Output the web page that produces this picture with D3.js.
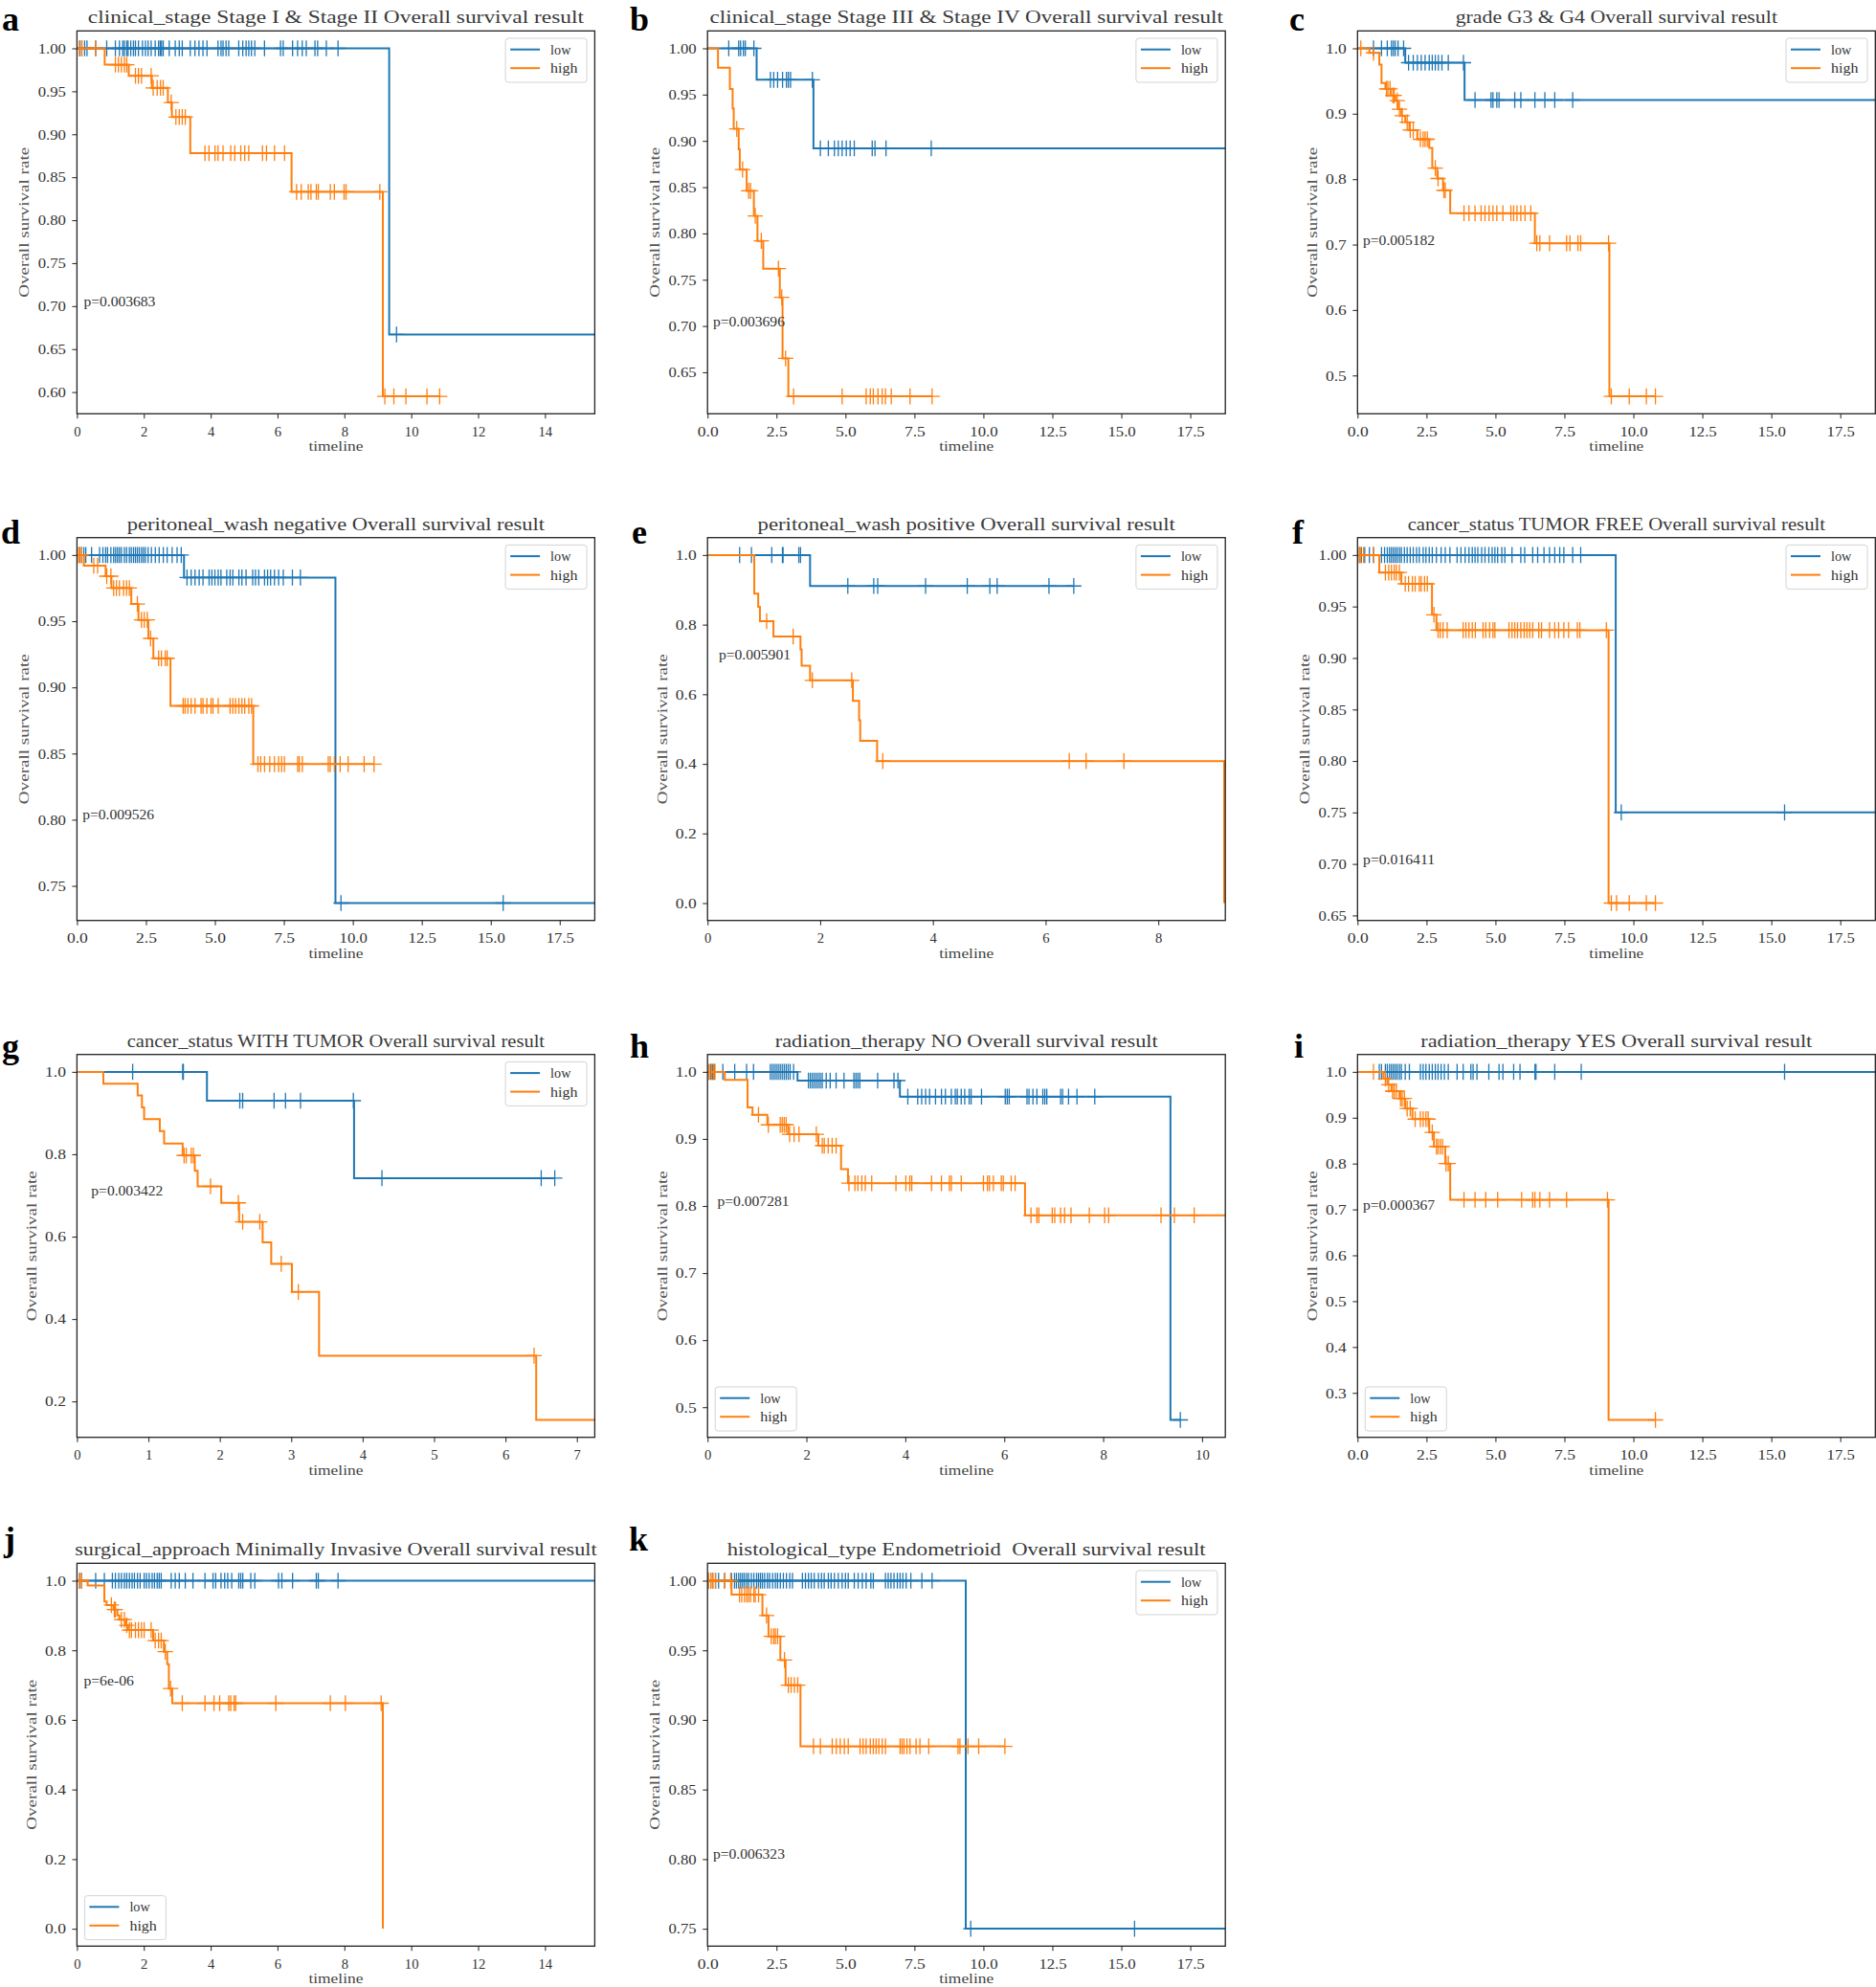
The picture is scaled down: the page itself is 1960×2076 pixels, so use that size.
<!DOCTYPE html>
<html><head><meta charset="utf-8">
<script src="https://cdn.jsdelivr.net/npm/d3@7"></script>
<style>
body{margin:0;background:#fff;}
svg text{white-space:pre;}
</style></head><body>
<svg id="chart" width="1960" height="2076"></svg>
<script>
// ---------------- DATA ----------------
const panelLetters = ["a","b","c","d","e","f","g","h","i","j","k"];
const panelTitles = [
  "clinical_stage Stage I & Stage II Overall survival result",
  "clinical_stage Stage III & Stage IV Overall survival result",
  "grade G3 & G4 Overall survival result",
  "peritoneal_wash negative Overall survival result",
  "peritoneal_wash positive Overall survival result",
  "cancer_status TUMOR FREE Overall survival result",
  "cancer_status WITH TUMOR Overall survival result",
  "radiation_therapy NO Overall survival result",
  "radiation_therapy YES Overall survival result",
  "surgical_approach Minimally Invasive Overall survival result",
  "histological_type Endometrioid  Overall survival result"
];
const pValues = ["p=0.003683","p=0.003696","p=0.005182","p=0.009526","p=0.005901","p=0.016411","p=0.003422","p=0.007281","p=0.000367","p=6e-06","p=0.006323"];
const pValueY = [0.7,0.7,0.7,0.8,0.7,0.7,0.7,0.8,0.7,0.7,0.8];
const seriesNames = ["low","high"];
const legendCorner = ["ur","ur","ur","ur","ur","ur","ur","ll","ll","ll","ur"];
const xMaxes = [15.49,18.77,18.77,18.77,9.19,18.77,7.25,10.47,18.77,15.49,18.77];
const yDecimals = [2,2,1,2,1,2,1,1,1,1,2];
const xDecimals = [0,1,1,1,0,1,0,0,1,0,1];

const xTicksBy2to14 = [0,2,4,6,8,10,12,14];
const xTicksBy25 = [0,2.5,5,7.5,10,12.5,15,17.5];
const xTicksE = [0,2,4,6,8];
const xTicksG = [0,1,2,3,4,5,6,7];
const xTicksH = [0,2,4,6,8,10];

const yTicksA = [0.60,0.65,0.70,0.75,0.80,0.85,0.90,0.95,1.00];
const yTicksB = [0.65,0.70,0.75,0.80,0.85,0.90,0.95,1.00];
const yTicksC = [0.5,0.6,0.7,0.8,0.9,1.0];
const yTicksD = [0.75,0.80,0.85,0.90,0.95,1.00];
const yTicksE = [0.0,0.2,0.4,0.6,0.8,1.0];
const yTicksF = [0.65,0.70,0.75,0.80,0.85,0.90,0.95,1.00];
const yTicksG = [0.2,0.4,0.6,0.8,1.0];
const yTicksH = [0.5,0.6,0.7,0.8,0.9,1.0];
const yTicksI = [0.3,0.4,0.5,0.6,0.7,0.8,0.9,1.0];
const yTicksJ = [0.0,0.2,0.4,0.6,0.8,1.0];
const yTicksK = [0.75,0.80,0.85,0.90,0.95,1.00];

// steps: [time, survival after drop]; censor: censored times; end: last time
const aLowSteps = [[9.34,0.667]];
const aLowCensor = [0.08,0.14,0.23,0.30,0.56,0.89,1.15,1.27,1.37,1.42,1.49,1.53,1.61,1.69,1.75,1.84,1.96,2.05,2.13,2.22,2.34,2.44,2.49,2.53,2.58,2.76,2.94,3.06,3.15,3.39,3.53,3.65,3.77,3.89,4.22,4.31,4.37,4.46,4.54,4.84,4.96,5.06,5.14,5.22,5.32,5.61,6.09,6.17,6.45,6.60,6.74,6.86,7.12,7.20,7.46,7.81,9.56];
const aHighSteps = [[0.83,0.981],[1.55,0.968],[2.24,0.954],[2.72,0.937],[2.84,0.920],[3.39,0.878],[6.42,0.833],[9.15,0.595]];
const aHighCensor = [0.08,0.15,0.56,1.15,1.24,1.33,1.42,1.49,1.75,1.84,1.93,2.22,2.28,2.40,2.50,2.58,2.82,2.96,3.06,3.15,3.24,3.83,3.95,4.13,4.22,4.37,4.60,4.72,4.90,5.02,5.14,5.55,5.67,5.91,6.21,6.57,6.71,6.92,7.00,7.16,7.22,7.58,7.70,7.99,8.05,9.06,9.21,9.48,9.84,10.47,10.85];

const bLowSteps = [[1.78,0.966],[3.84,0.892]];
const bLowCensor = [0.77,1.13,1.20,1.30,1.37,1.68,2.28,2.40,2.54,2.72,2.86,2.93,3.01,3.80,4.09,4.38,4.60,4.74,4.88,5.03,5.17,5.32,5.97,6.07,6.47,8.11];
const bHighSteps = [[0.38,0.979],[0.81,0.956],[0.91,0.935],[0.95,0.913],[1.13,0.891],[1.17,0.869],[1.42,0.846],[1.68,0.819],[1.81,0.792],[2.02,0.762],[2.62,0.731],[2.72,0.665],[2.93,0.624]];
const bHighCensor = [1.06,1.27,1.49,1.56,1.73,1.95,2.57,2.69,2.83,3.12,4.88,5.75,5.90,6.01,6.18,6.33,6.45,6.66,7.34,8.14];

const cLowSteps = [[1.73,0.978],[3.88,0.921]];
const cLowCensor = [0.58,0.87,1.08,1.23,1.30,1.37,1.47,1.67,1.85,2.02,2.17,2.31,2.45,2.60,2.71,2.82,2.93,3.06,3.29,3.84,4.26,4.84,4.91,5.05,5.13,5.70,5.92,6.43,6.79,7.15,7.80];
const cHighSteps = [[0.43,0.993],[0.79,0.975],[0.87,0.947],[1.01,0.938],[1.20,0.928],[1.37,0.920],[1.47,0.907],[1.59,0.897],[1.73,0.887],[1.88,0.875],[2.17,0.861],[2.60,0.848],[2.71,0.817],[2.89,0.801],[3.10,0.783],[3.36,0.748],[6.43,0.702],[9.13,0.468]];
const cHighCensor = [0.12,0.58,1.05,1.10,1.18,1.28,1.33,1.44,1.52,1.62,1.80,1.91,2.02,2.28,2.38,2.45,2.53,2.82,2.92,3.13,3.18,3.86,4.04,4.26,4.48,4.62,4.77,4.91,5.05,5.27,5.56,5.66,5.78,5.92,6.07,6.28,6.50,6.61,6.96,7.58,7.70,7.99,8.09,9.10,9.20,9.85,10.47,10.80];

const dLowSteps = [[3.88,0.983],[9.37,0.737]];
const dLowCensor = [0.10,0.17,0.25,0.32,0.53,0.82,0.94,1.04,1.11,1.23,1.33,1.40,1.47,1.54,1.61,1.72,1.80,1.90,1.97,2.05,2.12,2.19,2.26,2.34,2.41,2.48,2.58,2.70,2.84,2.98,3.13,3.27,3.45,3.63,3.78,3.99,4.14,4.28,4.43,4.57,4.79,4.89,5.00,5.12,5.22,5.43,5.55,5.65,5.87,5.98,6.13,6.37,6.47,6.59,6.80,6.91,7.02,7.16,7.31,7.48,7.81,8.10,9.57,15.45];
const dHighSteps = [[0.25,0.992],[1.04,0.984],[1.25,0.975],[1.97,0.963],[2.23,0.951],[2.59,0.937],[2.77,0.922],[3.39,0.886],[6.39,0.842]];
const dHighCensor = [0.06,0.10,0.17,0.61,0.75,1.08,1.23,1.33,1.43,1.54,1.69,1.80,1.90,2.19,2.34,2.44,2.55,2.67,2.96,3.06,3.20,3.27,3.85,3.92,4.02,4.14,4.28,4.50,4.57,4.71,4.86,4.93,5.12,5.55,5.65,5.75,5.87,5.98,6.08,6.23,6.33,6.56,6.66,6.80,6.99,7.16,7.31,7.42,7.52,8.00,8.06,8.17,9.11,9.18,9.33,9.54,9.83,10.41,10.77];

const eLowSteps = [[1.82,0.911]];
const eLowCensor = [0.57,0.78,1.14,1.33,1.34,1.62,1.65,2.49,2.95,3.02,3.87,4.61,5.01,5.14,6.06,6.50];
const eHighSteps = [[0.83,0.889],[0.90,0.851],[0.93,0.810],[1.17,0.766],[1.65,0.729],[1.67,0.682],[1.82,0.640],[2.58,0.581],[2.69,0.525],[2.71,0.466],[3.01,0.408],[9.17,0.0]];
const eHighCensor = [1.05,1.52,1.86,2.56,3.11,6.42,6.72,7.39];

const fLowSteps = [[9.36,0.75]];
const fLowCensor = [0.07,0.14,0.26,0.43,0.58,0.87,0.98,1.08,1.16,1.23,1.30,1.37,1.44,1.52,1.59,1.70,1.80,1.91,2.02,2.14,2.24,2.38,2.48,2.60,2.71,2.86,3.03,3.18,3.35,3.61,3.75,3.90,4.04,4.16,4.26,4.36,4.50,4.62,4.76,4.88,4.98,5.08,5.23,5.34,5.60,5.92,6.06,6.35,6.53,6.76,6.96,7.15,7.33,7.48,7.80,8.09,9.56,15.48];
const fHighSteps = [[0.79,0.983],[1.59,0.972],[2.70,0.942],[2.86,0.927],[9.10,0.662]];
const fHighCensor = [0.07,0.12,0.22,0.58,1.01,1.13,1.23,1.33,1.41,1.52,1.73,1.85,1.99,2.09,2.24,2.31,2.43,2.53,2.77,2.92,3.00,3.10,3.25,3.83,3.93,4.04,4.16,4.27,4.55,4.65,4.79,4.91,4.98,5.49,5.60,5.70,5.80,5.92,6.04,6.14,6.24,6.35,6.57,6.67,6.96,7.15,7.29,7.48,7.65,7.97,8.06,9.02,9.20,9.39,9.85,10.47,10.80];

const gLowSteps = [[1.82,0.930],[3.88,0.742]];
const gLowCensor = [0.78,1.48,1.49,2.28,2.32,2.76,2.92,3.13,3.87,4.27,6.50,6.69];
const gHighSteps = [[0.37,0.971],[0.85,0.943],[0.91,0.914],[0.94,0.885],[1.16,0.856],[1.22,0.826],[1.48,0.797],[1.65,0.760],[1.69,0.722],[2.02,0.682],[2.27,0.636],[2.60,0.586],[2.72,0.534],[3.01,0.466],[3.39,0.311],[6.43,0.155]];
const gHighCensor = [1.50,1.53,1.60,1.63,1.87,2.26,2.32,2.56,2.86,3.10,6.40];

const hLowSteps = [[1.82,0.987],[3.89,0.963],[9.36,0.481]];
const hLowCensor = [0.06,0.10,0.14,0.31,0.55,0.79,0.93,1.27,1.31,1.35,1.39,1.43,1.47,1.51,1.55,1.59,1.63,1.67,1.74,2.04,2.08,2.12,2.16,2.20,2.24,2.28,2.32,2.40,2.48,2.60,2.76,2.96,3.00,3.04,3.08,3.44,3.77,3.85,4.05,4.25,4.33,4.41,4.49,4.61,4.73,4.81,4.93,5.01,5.05,5.13,5.20,5.29,5.33,5.54,6.02,6.06,6.10,6.46,6.50,6.58,6.66,6.78,6.82,6.86,7.14,7.18,7.30,7.47,7.83,9.56];
const hHighSteps = [[0.35,0.988],[0.81,0.947],[0.91,0.936],[1.21,0.921],[1.63,0.907],[2.24,0.890],[2.70,0.855],[2.84,0.834],[6.42,0.786]];
const hHighCensor = [0.03,0.08,0.12,0.15,1.03,1.23,1.47,1.51,1.55,1.59,1.66,1.75,1.85,2.20,2.32,2.36,2.44,2.52,2.60,2.86,2.98,3.04,3.12,3.19,3.32,3.81,4.01,4.09,4.13,4.53,4.73,4.89,4.93,5.13,5.58,5.66,5.70,5.78,5.94,5.98,6.14,6.22,6.54,6.66,6.70,6.97,7.02,7.14,7.22,7.35,7.72,8.03,8.11,9.17,9.44,9.84];

const iLowSteps = [];
const iLowCensor = [0.79,0.87,1.01,1.08,1.16,1.23,1.30,1.37,1.44,1.52,1.59,1.73,1.88,2.28,2.38,2.48,2.60,2.71,2.82,2.92,3.03,3.15,3.29,3.61,3.83,4.11,4.19,4.33,4.76,5.13,5.27,5.66,5.89,6.43,6.47,7.15,8.11,15.48];
const iHighSteps = [[0.94,0.985],[1.08,0.972],[1.23,0.958],[1.52,0.942],[1.73,0.920],[1.99,0.897],[2.60,0.868],[2.77,0.837],[3.18,0.800],[3.36,0.721],[9.10,0.241]];
const iHighCensor = [0.58,1.01,1.13,1.27,1.33,1.41,1.56,1.62,1.70,1.80,1.91,2.09,2.28,2.38,2.48,2.56,2.71,2.86,2.92,3.00,3.08,3.21,3.29,3.86,4.26,4.65,5.08,5.95,6.35,6.43,6.61,6.96,7.58,9.06,10.80];

const jLowSteps = [];
const jLowCensor = [0.08,0.14,0.56,0.82,1.06,1.15,1.25,1.33,1.42,1.49,1.57,1.65,1.72,1.81,1.89,2.01,2.08,2.16,2.25,2.32,2.40,2.46,2.52,2.82,2.94,3.06,3.24,3.47,3.83,4.07,4.15,4.31,4.42,4.51,4.63,4.84,4.90,4.96,5.20,5.32,6.03,6.13,6.45,7.16,7.22,7.81];
const jHighSteps = [[0.32,0.986],[0.82,0.940],[0.89,0.930],[1.09,0.917],[1.21,0.900],[1.27,0.888],[1.45,0.872],[1.53,0.858],[2.28,0.828],[2.60,0.796],[2.70,0.760],[2.75,0.690],[2.85,0.648],[9.15,0.0]];
const jHighCensor = [0.08,0.14,1.03,1.12,1.15,1.33,1.42,1.49,1.57,1.63,1.75,1.84,1.93,2.01,2.22,2.34,2.44,2.52,2.64,2.80,3.15,3.83,4.10,4.27,4.54,4.60,4.70,4.75,5.95,7.58,8.03,9.10];

const kLowSteps = [[9.36,0.75]];
const kLowCensor = [0.04,0.12,0.19,0.29,0.40,0.62,0.87,0.98,1.05,1.13,1.20,1.27,1.34,1.42,1.49,1.59,1.68,1.78,1.85,1.92,1.99,2.07,2.17,2.25,2.36,2.46,2.54,2.64,2.75,2.86,2.98,3.08,3.44,3.55,3.66,3.76,3.87,4.02,4.13,4.23,4.38,4.48,4.60,4.74,4.88,5.00,5.10,5.32,5.46,5.61,5.75,5.92,6.01,6.45,6.55,6.65,6.76,6.88,6.98,7.08,7.20,7.37,7.77,8.14,9.54,15.48];
const kHighSteps = [[0.87,0.990],[1.99,0.975],[2.21,0.960],[2.64,0.943],[2.83,0.925],[3.37,0.881]];
const kHighCensor = [0.04,0.12,0.19,0.29,0.62,0.84,1.16,1.24,1.34,1.42,1.49,1.56,1.68,1.73,1.85,2.14,2.31,2.40,2.46,2.54,2.79,2.93,3.03,3.15,3.27,3.84,4.09,4.52,4.67,4.81,4.96,5.10,5.53,5.64,5.75,5.90,6.01,6.11,6.21,6.33,6.45,6.98,7.05,7.12,7.23,7.34,7.56,7.70,8.02,9.08,9.15,9.44,9.83,10.78];

const lowEnds  = [15.6,19,19,19,6.50,19,6.69,9.56,19,15.6,19];
const highEnds = [10.85,8.14,10.80,10.77,9.17,10.80,7.4,10.6,10.80,9.15,10.78];

// ---------------- BUILD ----------------
const lowSteps = [aLowSteps,bLowSteps,cLowSteps,dLowSteps,eLowSteps,fLowSteps,gLowSteps,hLowSteps,iLowSteps,jLowSteps,kLowSteps];
const lowCensor = [aLowCensor,bLowCensor,cLowCensor,dLowCensor,eLowCensor,fLowCensor,gLowCensor,hLowCensor,iLowCensor,jLowCensor,kLowCensor];
const highSteps = [aHighSteps,bHighSteps,cHighSteps,dHighSteps,eHighSteps,fHighSteps,gHighSteps,hHighSteps,iHighSteps,jHighSteps,kHighSteps];
const highCensor = [aHighCensor,bHighCensor,cHighCensor,dHighCensor,eHighCensor,fHighCensor,gHighCensor,hHighCensor,iHighCensor,jHighCensor,kHighCensor];
const xTickSets = [xTicksBy2to14,xTicksBy25,xTicksBy25,xTicksBy25,xTicksE,xTicksBy25,xTicksG,xTicksH,xTicksBy25,xTicksBy2to14,xTicksBy25];
const yTickSets = [yTicksA,yTicksB,yTicksC,yTicksD,yTicksE,yTicksF,yTicksG,yTicksH,yTicksI,yTicksJ,yTicksK];

const colors = ["#1f77b4","#ff7f0e"];
const FONT = "'Liberation Serif', 'DejaVu Serif', serif";
const W = 541, H = 400;
const colLeft = [80.4, 739.2, 1418.3];
const rowTop = [32.3, 561.7, 1101.7, 1633.3];
const letterPos = [[2,32],[658,32],[1347,32],[1,568],[660,568],[1350,568],[2,1105],[658,1105],[1352,1105],[4,1620],[657,1620]];

const svg = d3.select("#chart");
svg.append("rect").attr("width",1960).attr("height",2076).attr("fill","#fff");

function survAt(steps, t){
  let s = 1;
  for (const [st, sv] of steps){ if (st <= t) s = sv; else break; }
  return s;
}

panelLetters.forEach((letter, i) => {
  const left = colLeft[i % 3], top = rowTop[Math.floor(i / 3)];
  const g = svg.append("g").attr("transform", `translate(${left},${top})`);
  const series = [
    {steps: lowSteps[i], censor: lowCensor[i], end: lowEnds[i]},
    {steps: highSteps[i], censor: highCensor[i], end: highEnds[i]}
  ];
  const allS = [1].concat(series[0].steps.map(d=>d[1]), series[1].steps.map(d=>d[1]));
  const yMin = d3.min(allS), yMax = d3.max(allS), pad = (yMax - yMin) * 0.05;
  const x = d3.scaleLinear().domain([0, xMaxes[i]]).range([0, W]);
  const y = d3.scaleLinear().domain([yMin - pad, yMax + pad]).range([H, 0]);

  const cid = "clip" + letter;
  g.append("clipPath").attr("id", cid).append("rect").attr("width", W).attr("height", H);

  const yFmt = d3.format("." + yDecimals[i] + "f");
  const xFmt = d3.format("." + xDecimals[i] + "f");
  const xAx = g.append("g").attr("transform", `translate(0,${H})`)
    .call(d3.axisBottom(x).tickValues(xTickSets[i]).tickFormat(xFmt).tickSize(5).tickPadding(8));
  const yAx = g.append("g")
    .call(d3.axisLeft(y).tickValues(yTickSets[i]).tickFormat(yFmt).tickSize(5).tickPadding(6.5));
  [xAx, yAx].forEach(ax => {
    ax.select(".domain").remove();
    ax.selectAll(".tick line").attr("stroke", "#333").attr("stroke-width", 1.1);
    ax.selectAll(".tick text").attr("font-family", FONT).attr("font-size", 15).attr("fill", "#333")
      .each(function(){ const t = d3.select(this); t.attr("textLength", t.text().length * 7.3).attr("lengthAdjust", "spacingAndGlyphs"); });
  });

  const line = d3.line().x(d => x(d[0])).y(d => y(d[1])).curve(d3.curveStepAfter);
  const plot = g.append("g").attr("clip-path", `url(#${cid})`);
  series.forEach((s, k) => {
    const last = s.steps.length ? s.steps[s.steps.length - 1][1] : 1;
    const pts = [[0, 1]].concat(s.steps, [[s.end, last]]);
    plot.append("path").attr("d", line(pts)).attr("fill", "none")
      .attr("stroke", colors[k]).attr("stroke-width", 2);
    plot.append("g").selectAll("path").data(s.censor).join("path")
      .attr("d", t => { const cx = x(t), cy = y(survAt(s.steps, t)); return `M${cx-8},${cy}H${cx+8}M${cx},${cy-8.3}V${cy+8.3}`; })
      .attr("stroke", colors[k]).attr("stroke-width", 1.3).attr("fill", "none");
  });

  g.append("rect").attr("width", W).attr("height", H).attr("fill", "none")
    .attr("stroke", "#222").attr("stroke-width", 1.3);

  g.append("text").attr("x", x(0.2)).attr("y", y(pValueY[i]))
    .attr("font-family", FONT).attr("font-size", 15).attr("fill", "#333")
    .attr("textLength", pValues[i].length * 7.5).attr("lengthAdjust", "spacingAndGlyphs")
    .text(pValues[i]);

  const lw = 85, lh = 46;
  const lx = legendCorner[i] === "ur" ? W - 8.3 - lw : 8;
  const ly = legendCorner[i] === "ur" ? 7.7 : H - 6.7 - lh;
  const lg = g.append("g").attr("transform", `translate(${lx},${ly})`);
  lg.append("rect").attr("width", lw).attr("height", lh).attr("rx", 3)
    .attr("fill", "#fff").attr("fill-opacity", 0.85).attr("stroke", "#d4d4d4").attr("stroke-width", 1);
  seriesNames.forEach((nm, k) => {
    const yy = 11.7 + k * 19.5;
    lg.append("line").attr("x1", 5).attr("x2", 36).attr("y1", yy).attr("y2", yy)
      .attr("stroke", colors[k]).attr("stroke-width", 2);
    lg.append("text").attr("x", 47).attr("y", yy + 5).attr("font-family", FONT)
      .attr("font-size", 15).attr("fill", "#333")
      .attr("textLength", nm.length * 7.1).attr("lengthAdjust", "spacingAndGlyphs").text(nm);
  });

  g.append("text").attr("x", W / 2).attr("y", -8).attr("text-anchor", "middle")
    .attr("font-family", FONT).attr("font-size", 18.5).attr("fill", "#3a3a3a")
    .attr("textLength", panelTitles[i].length * 9.09).attr("lengthAdjust", "spacingAndGlyphs")
    .text(panelTitles[i]);

  const maxChars = d3.max(yTickSets[i], v => yFmt(v).length);
  const ylx = -(26 + maxChars * 7.3);
  g.append("text").attr("transform", `translate(${ylx},${H/2}) rotate(-90)`)
    .attr("text-anchor", "middle").attr("dy", "0.35em")
    .attr("font-family", FONT).attr("font-size", 15).attr("fill", "#555")
    .attr("textLength", 157).attr("lengthAdjust", "spacingAndGlyphs")
    .text("Overall survival rate");
  g.append("text").attr("x", W / 2).attr("y", H + 39).attr("text-anchor", "middle")
    .attr("font-family", FONT).attr("font-size", 15).attr("fill", "#444")
    .attr("textLength", 57).attr("lengthAdjust", "spacingAndGlyphs")
    .text("timeline");

  svg.append("text").attr("x", letterPos[i][0]).attr("y", letterPos[i][1])
    .attr("font-family", "'Liberation Serif', 'Times New Roman', serif").attr("font-weight", "bold")
    .attr("font-size", 36).attr("fill", "#000").text(letter);
});
</script>
</body></html>
